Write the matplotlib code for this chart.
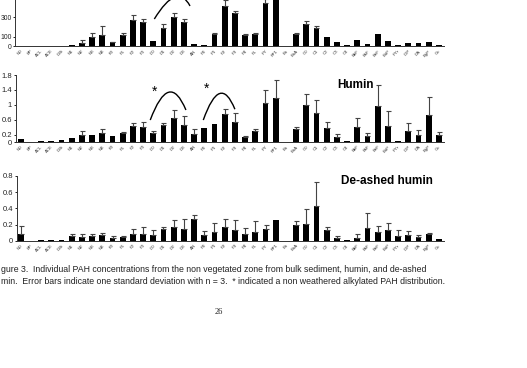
import numpy as np
import matplotlib
matplotlib.use("Agg")
import matplotlib.pyplot as plt
from matplotlib.path import Path
from matplotlib.patches import PathPatch

plt.rcParams['font.family'] = ['Liberation Sans', 'DejaVu Sans']

labels = ['N0', 'BP', 'ACL', 'ACE', 'DBt', 'N1', 'N2', 'N3', 'N4', 'F0', 'F1', 'F2', 'F3',
          'D0', 'D1', 'D2', 'D3', 'AN', 'P0', 'P1', 'P2', 'P3', 'P4', 'FL', 'PY', 'FP1',
          'Ba', 'BaA', 'C0', 'C1', 'C2', 'C3', 'C4', 'BbF', 'BkF', 'BeF', 'BaP', 'PYr',
          'IDP', 'DA', 'BgP', 'Co']

# bulk sediment (top panel, cut off at the top of the page)
bulk = [3, 1, 5, 8, 4, 10, 34, 97, 114, 41, 121, 272, 248, 52, 189, 303, 248, 21, 13, 124,
        420, 341, 120, 124, 451, 540, 0, 124, 231, 192, 93, 41, 17, 65, 27, 124, 55, 13,
        31, 31, 44, 13]
bulk_err = [0, 0, 0, 0, 0, 0, 28, 41, 93, 7, 13, 48, 37, 0, 39, 38, 37, 0, 0, 17,
            60, 24, 5, 14, 40, 60, 0, 10, 31, 18, 0, 0, 0, 0, 0, 0, 0, 0, 0, 0, 0, 0]

# humin
humin = [0.09, 0, 0.03, 0.02, 0.06, 0.11, 0.18, 0.19, 0.24, 0.15, 0.25, 0.42, 0.41, 0.23,
         0.46, 0.64, 0.47, 0.21, 0.37, 0.49, 0.74, 0.55, 0.13, 0.30, 1.06, 1.18, 0, 0.35,
         0.99, 0.79, 0.38, 0.14, 0.04, 0.41, 0.16, 0.96, 0.44, 0.03, 0.30, 0.19, 0.72, 0.19]
humin_err = [0, 0, 0, 0, 0, 0, 0.11, 0, 0.10, 0, 0.02, 0.10, 0.14, 0.06, 0.06, 0.22, 0.23,
             0.15, 0, 0, 0.14, 0.24, 0.04, 0.05, 0.35, 0.49, 0, 0.06, 0.31, 0.35, 0.17,
             0.08, 0, 0.24, 0.07, 0.56, 0.38, 0, 0.22, 0.12, 0.48, 0.07]

# de-ashed humin
deashed = [0.09, 0, 0.005, 0.008, 0.008, 0.06, 0.05, 0.06, 0.07, 0.036, 0.05, 0.08, 0.088,
           0.076, 0.144, 0.172, 0.148, 0.272, 0.068, 0.104, 0.168, 0.136, 0.084, 0.108, 0.14,
           0.26, 0, 0.192, 0.204, 0.424, 0.132, 0.04, 0.008, 0.036, 0.16, 0.112, 0.128, 0.06,
           0.068, 0.048, 0.088, 0.02]
deashed_err = [0.09, 0, 0, 0, 0, 0.03, 0.04, 0.03, 0.03, 0.028, 0.014, 0.064, 0.08, 0.052,
               0.024, 0.08, 0.12, 0.048, 0.052, 0.12, 0.096, 0.116, 0.068, 0.132, 0.056, 0,
               0, 0.056, 0.188, 0.296, 0.044, 0.024, 0, 0.044, 0.184, 0.072, 0.096, 0.068,
               0.048, 0.024, 0.008, 0]

W, H = 527, 368
fig = plt.figure(figsize=(W / 100, H / 100), dpi=100)
fig.patch.set_facecolor('white')

x = np.arange(len(labels))
x0_px, step_px = 20.7, 10.2   # category centre positions on the page


def make_ax(left_px, right_px, bottom_px, top_px, ylim):
    ax = fig.add_axes([left_px / W, (H - bottom_px) / H,
                       (right_px - left_px) / W, (bottom_px - top_px) / H])
    ax.set_xlim((left_px - x0_px) / step_px, (right_px - x0_px) / step_px)
    ax.set_ylim(*ylim)
    return ax


def draw(ax, vals, err, yticks, yticklabels, ysize=5.5, ypad=1.5):
    vals = np.array(vals, dtype=float)
    err = np.array(err, dtype=float)
    ax.bar(x, vals, width=0.55, color='black', zorder=2)
    m = err > 0
    ax.errorbar(x[m], vals[m], yerr=[np.zeros(m.sum()), err[m]], fmt='none',
                ecolor='#444444', elinewidth=0.8, capsize=1.8, capthick=0.8, zorder=3,
                clip_on=False)
    for s in ['top', 'right']:
        ax.spines[s].set_visible(False)
    for s in ['left', 'bottom']:
        ax.spines[s].set_linewidth(0.7)
        ax.spines[s].set_color('#333333')
    ax.set_xticks(x)
    ax.set_xticklabels(labels, rotation=45, ha='right', rotation_mode='anchor',
                       fontsize=3.2, color='#333333')
    ax.tick_params(axis='x', length=0, pad=2)
    ax.set_yticks(yticks)
    ax.set_yticklabels(yticklabels, fontsize=ysize, color='#222222')
    ax.tick_params(axis='y', length=1.5, width=0.6, pad=ypad)
    ax.set_facecolor('none')


def arc(ax, p0, p1, p2):
    path = Path([p0, p1, p2], [Path.MOVETO, Path.CURVE3, Path.CURVE3])
    ax.add_patch(PathPatch(path, fill=False, lw=1.0, color='black', clip_on=False))


# top panel: bulk sediment
ax1 = make_ax(14.5, 444, 46.3, -21.4, (0, 700))
draw(ax1, bulk, bulk_err, [0, 100, 300, 500], ['0', '100', '300', '500'],
     ysize=4.9, ypad=0.4)
arc(ax1, (13.1, 282), (15.35, 670), (16.6, 417))

# middle panel: humin
ax2 = make_ax(16, 444, 142, 75, (0, 1.8))
draw(ax2, humin, humin_err, [0, 0.2, 0.6, 1.0, 1.4, 1.8],
     ['0', '0.2', '0.6', '1', '1.4', '1.8'])
arc(ax2, (12.7, 0.59), (14.55, 1.95), (16.2, 0.86))
arc(ax2, (17.9, 0.59), (19.55, 1.87), (21.0, 0.88))
ax2.text(13.1, 1.36, '*', fontsize=10, ha='center', va='center')
ax2.text(18.2, 1.42, '*', fontsize=10, ha='center', va='center')
fig.text(356 / W, 1 - 85 / H, 'Humin', fontsize=8.5, fontweight='bold',
         ha='center', va='center')

# bottom panel: de-ashed humin
ax3 = make_ax(17, 444, 240.8, 176, (0, 0.8))
draw(ax3, deashed, deashed_err, [0, 0.2, 0.4, 0.6, 0.8], ['0', '0.2', '0.4', '0.6', '0.8'])
fig.text(387 / W, 1 - 181 / H, 'De-ashed humin', fontsize=8.5, fontweight='bold',
         ha='center', va='center')

# caption and page number
fig.text(1 / W, 1 - 270 / H,
         'gure 3.  Individual PAH concentrations from the non vegetated zone from bulk '
         'sediment, humin, and de-ashed',
         fontsize=6.3, ha='left', va='center', color='#222222')
fig.text(1 / W, 1 - 281 / H,
         'min.  Error bars indicate one standard deviation with n = 3.  * indicated a non '
         'weathered alkylated PAH distribution.',
         fontsize=6.3, ha='left', va='center', color='#222222')
fig.text(219 / W, 1 - 312 / H, '26', fontsize=6, family='Liberation Serif',
         ha='center', va='center', color='#222222')

fig.savefig('out.png', dpi=100)
